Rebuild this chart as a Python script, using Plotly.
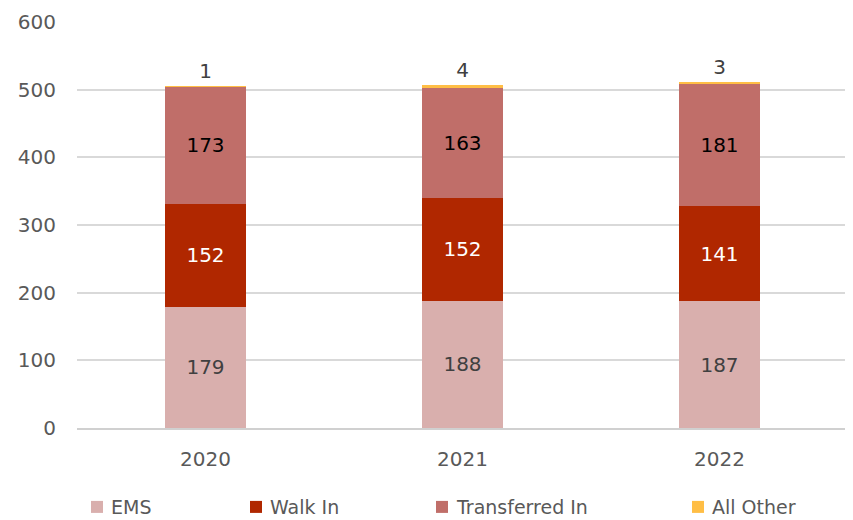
import plotly.graph_objects as go

years = ["2020", "2021", "2022"]
ems = [179, 188, 187]
walk_in = [152, 152, 141]
transferred = [173, 163, 181]
all_other = [1, 4, 3]

series_names = ["EMS", "Walk In", "Transferred In", "All Other"]
series_colors = ["#D9AFAD", "#B02700", "#C06E69", "#FFBE45"]
label_colors = ["#404040", "white", "black", "#404040"]

FONT = "DejaVu Sans"
OFF = 8  # page body margin offset
W, H = 853 - OFF, 520 - OFF
ML, MR, MT, MB = 77 - OFF, 5, 21.5 - OFF, 92

fig = go.Figure()
for name, vals, col, lcol in zip(series_names, [ems, walk_in, transferred, all_other],
                                 series_colors, label_colors):
    outside = name == "All Other"
    fig.add_bar(name=name, x=years, y=vals, marker_color=col, text=vals,
                textposition="outside" if outside else "inside",
                insidetextanchor="middle", cliponaxis=False,
                textfont=dict(color=lcol, size=20, family=FONT),
                showlegend=False)

fig.update_traces(marker_line_width=0)

# manual legend matching the reference layout (page pixel positions)
pw = W - ML - MR
ph = H - MT - MB
legend_sym_px = [97, 256, 442, 698]
legend_y = (520 - MB - 507) / ph
for name, col, px in zip(series_names, series_colors, legend_sym_px):
    xp = (px - OFF - ML) / pw
    fig.add_shape(type="rect", xref="paper", yref="paper",
                  xsizemode="pixel", ysizemode="pixel",
                  xanchor=xp, yanchor=legend_y, x0=-6, x1=6, y0=-6, y1=6,
                  fillcolor=col, line_width=0)
    fig.add_annotation(xref="paper", yref="paper", x=(px + 12 - OFF - ML) / pw, y=legend_y,
                       text=name, showarrow=False, xanchor="left", yanchor="middle",
                       font=dict(size=19, color="#595959", family=FONT))

fig.update_layout(
    barmode="stack", bargap=0.685,
    width=W, height=H,
    margin=dict(l=ML, r=MR, t=MT, b=MB, autoexpand=False),
    plot_bgcolor="white", paper_bgcolor="white",
    font=dict(family=FONT, color="#595959", size=20),
    uniformtext=dict(mode=False),
    yaxis=dict(range=[0, 600], dtick=100, showgrid=True, gridcolor="#D9D9D9", gridwidth=1.5,
               zeroline=False, ticks="", tickfont=dict(size=20), ticklabelstandoff=20),
    xaxis=dict(showline=True, linecolor="#D0D0D0", linewidth=1.5, ticks="",
               tickfont=dict(size=20), ticklabelstandoff=12),
)
fig.write_html("out.html")
